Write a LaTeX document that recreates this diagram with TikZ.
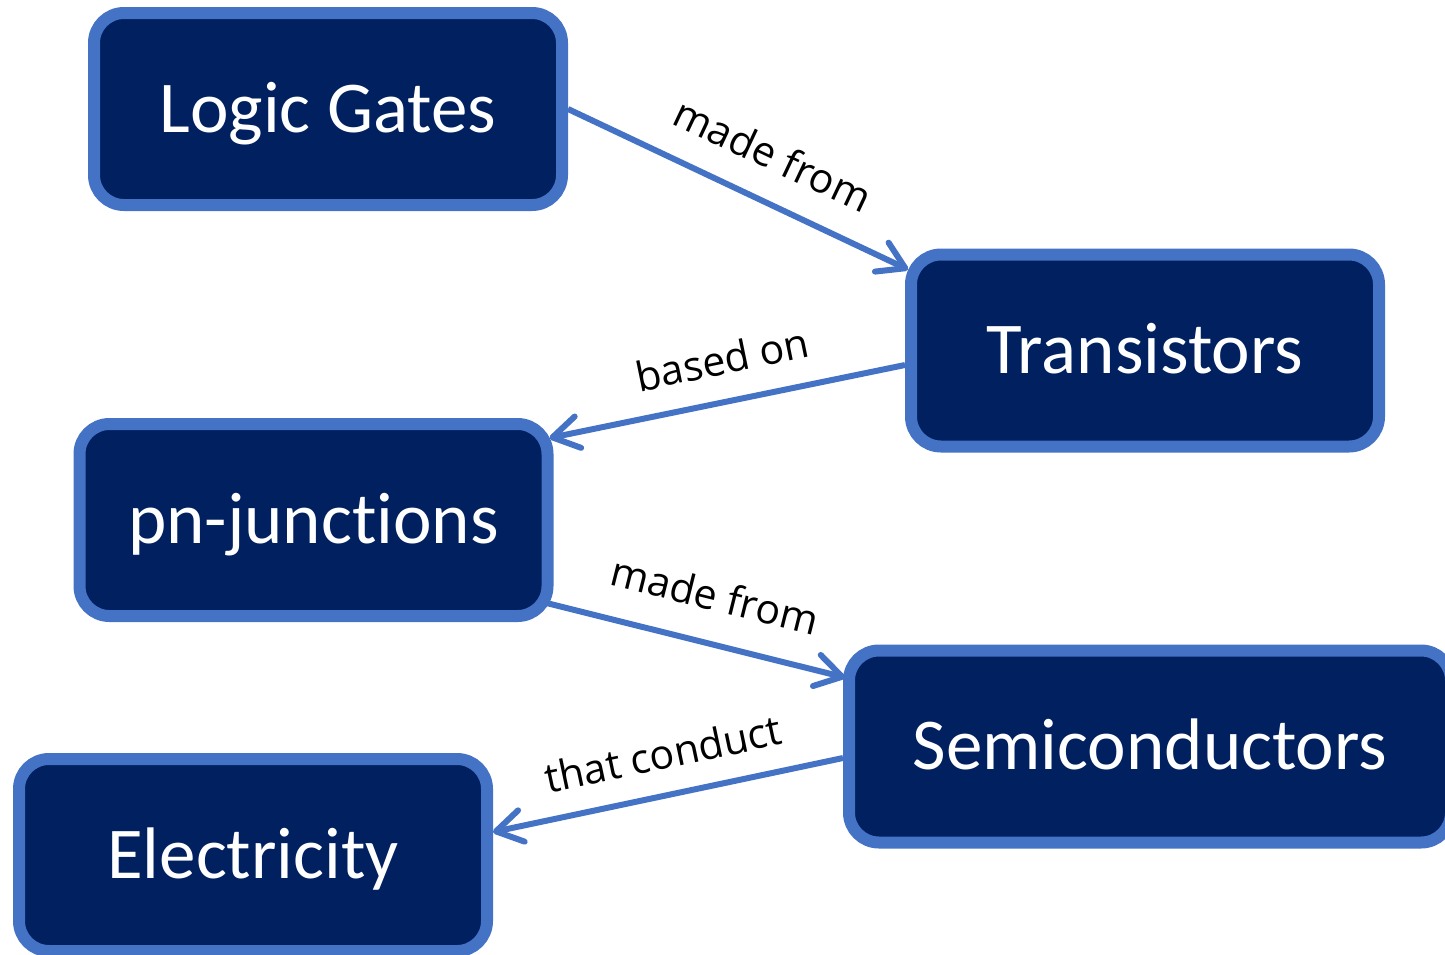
\documentclass[tikz,border=0pt]{standalone}
\usepackage{fontspec}
\setmainfont{Carlito}[Ligatures=NoCommon]
\newfontfamily\labelfont{Open Sans}
\usetikzlibrary{arrows.meta,calc}
\definecolor{boxfill}{RGB}{0,32,96}
\definecolor{boxline}{RGB}{68,114,196}
\begin{document}
\begin{tikzpicture}[x=1pt,y=-1pt,
  concept/.style={draw=boxline, fill=boxfill, line width=12pt, rounded corners=30pt,
    text=white, font=\fontsize{73}{86}\selectfont,
    minimum width=468pt, minimum height=192pt,
    text height=46pt, text depth=0pt, inner sep=0pt},
  link/.style={draw=boxline, line width=6pt,
    -{Straight Barb[length=26pt,width=32pt,round]}},
  lbl/.style={font=\labelfont\fontsize{41}{48}\selectfont, text=black,
    sloped, inner sep=0pt, text depth=0pt}
]
\useasboundingbox (0,0) rectangle (1445,954);
\clip (0,0) rectangle (1445,954);

% concept boxes
\node[concept] (lg) at (328,109) {Logic Gates};
\node[concept] (tr) at (1145,350.5) {Transistors};
\node[concept] (pn) at (313.5,520) {pn-junctions};
\node[concept, minimum width=602pt] (sc) at (1150,746.5) {Semiconductors};
\node[concept] (el) at (253,855) {Electricity};

% labelled links
\draw[link] (lg.east) --
  node[lbl, pos=0.545, above=28pt] {made from}
  ($(tr.north west)+(3pt,-21pt)$);
\draw[link] ($(tr.west)+(0pt,-14.5pt)$) --
  node[lbl, pos=0.49, above=24pt] {based on}
  ($(pn.north east)+(-4pt,-20pt)$);
\draw[link] ($(pn.south east)+(-7pt,19pt)$) --
  node[lbl, pos=0.525, above=30pt] {made from}
  ($(sc.north west)+(2pt,-33pt)$);
\draw[link] ($(sc.west)+(0pt,-11.5pt)$) --
  node[lbl, pos=0.49, above=23pt] {that conduct}
  ($(el.east)+(0pt,23pt)$);
\end{tikzpicture}
\end{document}
